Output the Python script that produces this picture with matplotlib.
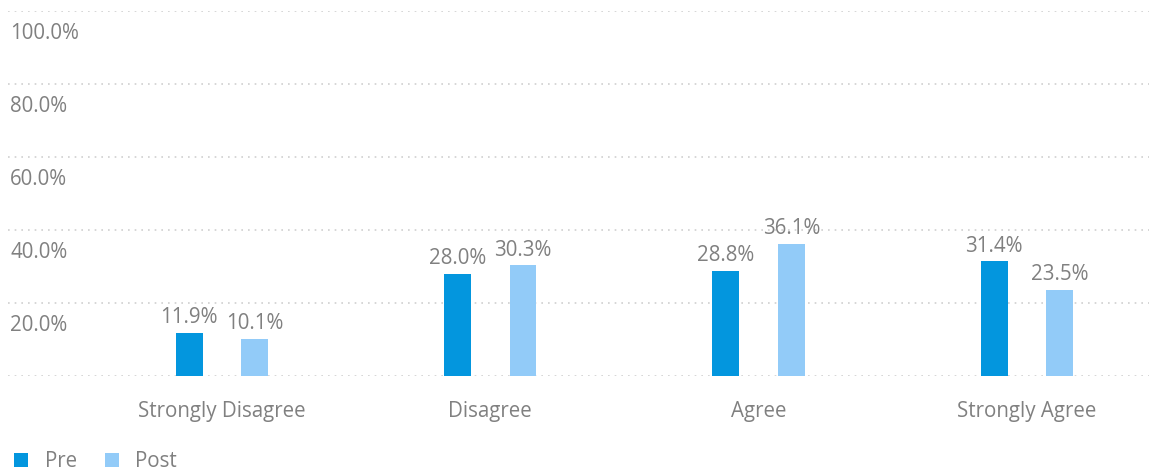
import matplotlib.pyplot as plt
from matplotlib.patches import Patch
import numpy as np

# donnees
categories = ["Strongly Disagree", "Disagree", "Agree", "Strongly Agree"]
pre = [11.9, 28.0, 28.8, 31.4]
post = [10.1, 30.3, 36.1, 23.5]
y_ticks = [20, 40, 60, 80, 100]

pre_color = "#0396de"
post_color = "#92cbf8"
text_color = "#808080"
fs = 14.8

plt.rcParams["font.family"] = ["Open Sans", "DejaVu Sans"]

fig = plt.figure(figsize=(11.49, 4.72), dpi=100)
ax = fig.add_axes([8 / 1149, 96 / 472, 1 - 8 / 1149, 365 / 472])

x = np.arange(len(categories))
off = 0.122
w = 0.1
b1 = ax.bar(x - off, pre, width=w, color=pre_color)
b2 = ax.bar(x + off, post, width=w, color=post_color)

for bars, vals in [(b1, pre), (b2, post)]:
    for rect, v in zip(bars, vals):
        ax.annotate(f"{v:.1f}%", (rect.get_x() + rect.get_width() / 2, v),
                    xytext=(0, 11), textcoords="offset points",
                    ha="center", va="center", fontsize=fs, color=text_color)

# grille pointillee
for t in [0] + y_ticks:
    ax.axhline(t, color="#cfcfcf", linestyle=(0, (1, 3)), linewidth=1.2, zorder=0)

# etiquettes de l'axe y sous les lignes
for t in y_ticks:
    ax.annotate(f"{t:.1f}%", (0, t), xycoords=ax.get_yaxis_transform(),
                xytext=(1.5, -16), textcoords="offset points",
                ha="left", va="center", fontsize=fs, color=text_color)

ax.set_xlim(-0.797, 3.455)
ax.set_ylim(0, 100)
ax.set_xticks(x)
ax.set_xticklabels(categories, fontsize=fs, color=text_color)
ax.tick_params(axis="x", length=0, pad=18)
ax.set_yticks([])
for s in ax.spines.values():
    s.set_visible(False)

handles = [Patch(facecolor=pre_color, label="Pre"), Patch(facecolor=post_color, label="Post")]
leg = fig.legend(handles=handles, loc="lower left", bbox_to_anchor=(0.0, -0.03), ncol=2,
                 frameon=False, fontsize=fs, handlelength=0.68, handleheight=0.68,
                 handletextpad=0.8, columnspacing=1.35, borderaxespad=0.3)
for t in leg.get_texts():
    t.set_color(text_color)

fig.savefig("out.png", dpi=100)
